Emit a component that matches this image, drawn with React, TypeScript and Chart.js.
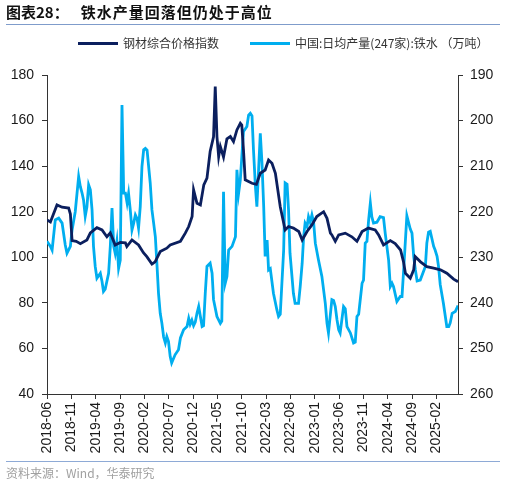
import React, { useEffect, useRef } from "react";
import { Chart, registerables } from "chart.js";

Chart.register(...registerables);

// x positions are months since 2018-06 (fractional)
const tickLabels = [
  "2018-06", "2018-11", "2019-04", "2019-09", "2020-02", "2020-07", "2020-12", "2021-05", "2021-10",
  "2022-03", "2022-08", "2023-01", "2023-06", "2023-11", "2024-04", "2024-09", "2025-02",
];

const steelMonths = [
  0, 0.7, 2.05, 3.1, 4.45, 4.8, 5.15, 6.0, 6.85, 8.2,
  8.9, 10.25, 11.3, 12.3, 13.0, 14.0, 15.05, 16.1, 16.4, 17.45,
  18.8, 19.8, 20.5, 21.55, 22.2, 23.25, 24.6, 25.3, 27.4, 28.4,
  29.1, 29.8, 30.1, 30.8, 31.5, 32.2, 32.85, 33.5, 34.2, 34.55,
  34.9, 35.25, 35.6, 36.25, 36.95, 37.65, 38.3, 39.0, 39.7, 40.0,
  40.35, 40.7, 42.1, 43.0, 43.8, 44.8, 45.5, 46.2, 46.9, 47.9,
  48.9, 49.6, 50.6, 51.7, 52.4, 53.4, 54.4, 55.4, 56.8, 57.5,
  58.2, 58.5, 59.2, 59.9, 61.25, 62.6, 63.65, 64.7, 66.0, 67.4,
  68.1, 69.1, 70.5, 71.5, 72.6, 73.2, 73.6, 74.6, 75.3, 75.6,
  76.7, 78.0, 79.4, 80.8, 82.1, 83.5, 84.4,
];
const steelIndex = [
  116.4, 115.5, 123, 122, 121.6, 119, 107.3, 107, 106, 107.6,
  110.7, 113, 112, 109, 110.7, 105.4, 106.5, 106.3, 104.7, 107.6,
  105.4, 102, 100.3, 97, 98, 102.5, 104, 105.4, 107, 110.6,
  113.5, 117.9, 129.6, 123.7, 123, 131.8, 134.7, 146.4, 152.9, 174.9,
  153, 144.2, 148.6, 144, 152, 153, 150.8, 155.9, 158.8, 158,
  147, 134, 132.5, 132, 136.9, 138.3, 142.7, 141.3, 136.9, 122.2,
  112, 113.5, 112.8, 111.3, 107.6, 111.3, 114.2, 117.9, 120, 117.1,
  110.6, 109.8, 107, 109.8, 110.6, 109, 107, 111.3, 112.8, 112,
  109.8, 105.4, 107.3, 106, 103.2, 98.1, 93, 90.8, 94.5, 100.3,
  98, 95.9, 95.2, 94.5, 93, 90.4, 89.3,
];

const ironMonths = [
  0, 0.7, 1.05, 1.7, 2.4, 3.1, 3.75, 4.1, 4.8, 5.15,
  5.8, 6.5, 6.85, 7.2, 7.5, 7.85, 8.2, 8.55, 8.9, 9.25,
  9.55, 9.9, 10.25, 10.95, 11.3, 11.6, 11.95, 12.65, 13.0, 13.35,
  13.7, 14.0, 14.35, 14.7, 15.05, 15.4, 15.75, 16.1, 16.45, 16.75,
  17.1, 17.45, 17.8, 18.15, 18.5, 18.8, 19.15, 19.5, 19.85, 20.2,
  20.55, 21.2, 21.55, 21.9, 22.25, 22.6, 22.9, 23.25, 23.6, 23.95,
  24.3, 24.6, 24.95, 25.3, 25.6, 26.3, 27.0, 27.4, 28.05, 28.75,
  29.1, 29.4, 29.75, 30.1, 30.45, 30.8, 31.15, 31.5, 31.85, 32.15,
  32.5, 32.85, 33.5, 33.9, 34.2, 34.9, 35.6, 35.9, 36.25, 36.6,
  36.95, 37.3, 38.0, 38.7, 39.0, 39.35, 39.7, 40.05, 40.35, 41.05,
  41.4, 41.75, 42.1, 42.4, 42.8, 43.1, 43.45, 43.8, 44.15, 44.5,
  44.8, 45.2, 45.5, 45.85, 46.5, 47.2, 47.55, 47.9, 48.6, 48.9,
  49.3, 49.6, 49.9, 50.6, 50.95, 51.65, 52.0, 52.4, 52.7, 53.0,
  53.4, 53.7, 54.05, 54.4, 54.75, 55.1, 55.75, 56.45, 57.15, 57.5,
  57.8, 58.5, 58.85, 59.2, 59.55, 59.9, 60.2, 60.9, 61.25, 61.6,
  62.3, 62.95, 63.3, 63.65, 64.0, 64.7, 65.0, 65.35, 65.7, 66.05,
  66.4, 66.7, 67.05, 67.75, 68.4, 69.1, 69.45, 70.15, 70.5, 70.85,
  71.15, 71.85, 72.55, 72.9, 73.2, 73.9, 74.6, 74.95, 75.3, 75.65,
  76.0, 76.65, 77.35, 77.7, 78.0, 78.35, 78.7, 79.4, 79.7, 80.1,
  80.4, 80.75, 81.4, 82.1, 82.5, 82.8, 83.2, 83.85, 84.4,
];
const ironOutput = [
  226.5, 227.6, 228.4, 221.8, 221.4, 222.5, 227.3, 229.1, 227.6, 224,
  220, 212.3, 214.5, 215.9, 217.4, 221, 218.9, 214.1, 215.2, 219.6,
  227.6, 232, 234.6, 233.5, 235.3, 237.5, 237, 233.5, 227.6, 219.2,
  227.6, 229.1, 226.5, 232.4, 230.6, 196.6, 215.9, 215.9, 218.1, 216,
  219.6, 224, 222.5, 220.7, 221.5, 223.6, 218.9, 210.1, 206.4, 206.1,
  206.5, 213.7, 219.6, 222.5, 225.5, 232, 237.9, 242.3, 244.5, 247.5,
  248.8, 247.4, 248.5, 251.8, 253.2, 251.4, 250.3, 247.7, 245.9, 245.2,
  243.4, 244.7, 243.8, 245, 244.2, 242.3, 240.8, 243, 245.2, 245,
  237.9, 232, 231.3, 233.5, 239.3, 243, 244.5, 244, 215.6, 235.7,
  234.2, 228.4, 227.6, 225.5, 210.8, 215.9, 213, 207.2, 202.4, 201.3,
  198.8, 198.4, 199, 206.4, 214.5, 218.9, 210.8, 202.8, 209.4, 218.9,
  229.8, 226.2, 232.8, 232.5, 237.9, 241.5, 243, 242.5, 228.4, 213.7,
  214, 219.6, 229.1, 237.9, 240.1, 240.1, 236.4, 231.3, 225.5, 222.5,
  223.3, 221.1, 222.3, 220.7, 222.3, 226.9, 230.6, 234.2, 240.1, 244.5,
  246.6, 239.3, 239.5, 240.8, 243.7, 245.9, 246.6, 240.8, 241.3, 245.2,
  246.6, 248.8, 248.6, 243, 242.5, 235.7, 235, 226.9, 226.5, 221.8,
  218.1, 221.1, 222.5, 222.3, 221.1, 221.3, 224.7, 230.6, 236.4, 235.7,
  236.4, 239.7, 238.6, 238.6, 233.5, 220.9, 223.8, 224.7, 229.8, 232.8,
  235.2, 235, 233, 232, 226.9, 224.5, 224.3, 227.6, 228.4, 229.8,
  232, 236, 240.1, 245.2, 245.2, 244.4, 242.3, 241.9, 240.6,
];

const NAVY = "#0b1f5e";
const LIGHT = "#00aeef";
const TICK_FONT = { family: "'Liberation Sans', Arial, sans-serif", size: 14 };
const CJK = "'Noto Sans CJK SC', 'Noto Sans', sans-serif";

export default function App() {
  const ref = useRef<HTMLCanvasElement | null>(null);

  useEffect(() => {
    if (!ref.current) return;
    const pairs = (xs: number[], ys: number[]) => {
      const n = Math.min(xs.length, ys.length);
      const out: { x: number; y: number }[] = [];
      for (let i = 0; i < n; i++) out.push({ x: xs[i], y: ys[i] });
      return out;
    };
    const chart = new Chart(ref.current, {
      type: "line",
      data: {
        datasets: [
          {
            label: "钢材综合价格指数",
            data: pairs(steelMonths, steelIndex),
            borderColor: NAVY,
            borderWidth: 2.8,
            pointRadius: 0,
            yAxisID: "y",
            tension: 0,
          },
          {
            label: "中国:日均产量(247家):铁水 （万吨）",
            data: pairs(ironMonths, ironOutput),
            borderColor: LIGHT,
            borderWidth: 2.8,
            pointRadius: 0,
            yAxisID: "y1",
            tension: 0,
          },
        ],
      },
      options: {
        responsive: false,
        animation: false,
        devicePixelRatio: 1,
        layout: { padding: { top: 75, left: 0, right: 0, bottom: 0 } },
        plugins: { legend: { display: false }, tooltip: { enabled: false }, title: { display: false } },
        scales: {
          x: {
            type: "linear",
            min: 0,
            max: 84.4,
            afterFit: (s: any) => { s.height = 92; },
            afterBuildTicks: (s: any) => { s.ticks = tickLabels.map((_, i) => ({ value: i * 5 })); },
            ticks: {
              autoSkip: false,
              minRotation: 90,
              maxRotation: 90,
              padding: 3,
              color: "#1a1a1a",
              font: TICK_FONT,
              callback: (v: any) => tickLabels[Math.round(Number(v) / 5)] ?? "",
            },
            grid: { drawOnChartArea: false, drawTicks: true, tickLength: 5, color: "#333" },
            border: { display: true, color: "#333", width: 1 },
          },
          y: {
            position: "left",
            min: 40,
            max: 180,
            afterFit: (s: any) => { s.width = 47; },
            ticks: { stepSize: 20, color: "#1a1a1a", font: TICK_FONT, padding: 8 },
            grid: { drawOnChartArea: false, drawTicks: true, tickLength: 5, color: "#333" },
            border: { display: true, color: "#333", width: 1 },
          },
          y1: {
            position: "right",
            min: 190,
            max: 260,
            reverse: true,
            afterFit: (s: any) => { s.width = 47; },
            ticks: { stepSize: 10, color: "#1a1a1a", font: TICK_FONT, padding: 7 },
            grid: { drawOnChartArea: false, drawTicks: true, tickLength: 5, color: "#333" },
            border: { display: true, color: "#333", width: 1 },
          },
        },
      },
    } as any);
    return () => chart.destroy();
  }, []);

  const legendLine = (color: string, left: number) => (
    <div style={{ position: "absolute", left, top: 42, width: 40, height: 3, background: color }} />
  );

  return (
    <div style={{ position: "absolute", left: 0, top: 0, width: 505, height: 486, background: "#fff", overflow: "hidden" }}>
      <canvas ref={ref} width={505} height={486} style={{ position: "absolute", left: 0, top: 0, width: 505, height: 486 }} />
      <div style={{ position: "absolute", left: 6, top: 2, fontFamily: CJK, fontWeight: 700, fontSize: 15, color: "#111", whiteSpace: "nowrap", lineHeight: "20px" }}>
        <span>图表28：</span>
        <span style={{ marginLeft: 12, letterSpacing: 1 }}>铁水产量回落但仍处于高位</span>
      </div>
      <div style={{ position: "absolute", left: 6, top: 24, width: 494, height: 1, background: "#7f9ccb" }} />
      {legendLine(NAVY, 78)}
      <div style={{ position: "absolute", left: 123, top: 35, fontFamily: CJK, fontSize: 12, color: "#333", whiteSpace: "nowrap", lineHeight: "16px" }}>钢材综合价格指数</div>
      {legendLine(LIGHT, 250)}
      <div style={{ position: "absolute", left: 295, top: 35, fontFamily: CJK, fontSize: 12, color: "#333", whiteSpace: "nowrap", lineHeight: "16px" }}>中国:日均产量(247家):铁水 （万吨）</div>
      <div style={{ position: "absolute", left: 6, top: 461, width: 494, height: 1, background: "#8eaad6" }} />
      <div style={{ position: "absolute", left: 6, top: 465, fontFamily: CJK, fontSize: 12, color: "#a0a0a0", whiteSpace: "nowrap", lineHeight: "16px" }}>资料来源：Wind，华泰研究</div>
    </div>
  );
}
